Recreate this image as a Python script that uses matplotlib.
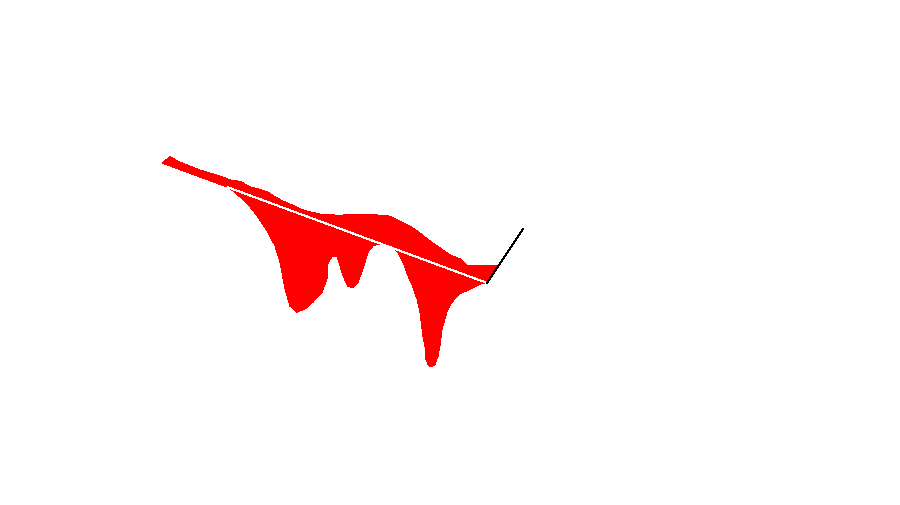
import numpy as np
import matplotlib
matplotlib.use("Agg")
import matplotlib.pyplot as plt
from matplotlib.transforms import Affine2D

# Position along the slanted axis and level relative to the axis (baseline = 0)
top_pos = [0, 8, 18, 28, 38, 48, 58, 68, 78, 88, 96, 106, 113, 118, 121, 130, 136,
           143, 153, 158, 173, 188, 206, 228, 238, 248, 258, 268, 278, 288, 298, 305, 318, 335]
top_lvl = [0, 9, 7.6, 7.3, 7.0, 7.7, 8.4, 8.1, 10.5, 8.5, 9.5, 10, 8, 7, 6.5, 6, 5.5,
           5, 6.5, 7.3, 11.8, 17.4, 24.8, 31, 29.8, 28.5, 25.2, 20.9, 17.6, 14.3, 14, 10.5, 15.3, 21.6]

bot_pos = [325, 318, 308, 298, 290, 285, 280, 278, 276, 273, 271, 268, 266, 264, 263, 261,
           258, 255, 251, 246, 241, 235, 230, 226, 221, 216, 211, 206, 201, 196, 191, 186,
           181, 178, 175, 170, 166, 165, 160, 151, 143, 135, 128, 123, 118, 113, 106, 96,
           88, 78, 70, 68, 0]
bot_lvl = [0, -3.7, -12.4, -21, -32, -43.8, -62.7, -80.4, -91.2, -100.3, -103, -105.1, -103.8,
           -98.6, -86, -76.7, -53.8, -41.9, -31.4, -22.2, -10.1, -1.3, 1.9, 1.4, 0.5, -1.3,
           -5.1, -13, -31.8, -46.7, -54.5, -54.4, -46.2, -37.3, -29.4, -30.3, -39.7, -55.1,
           -70, -83.3, -93.2, -99.2, -95.8, -80.6, -55.5, -41.3, -29.9, -18.6, -11.5, -5.2,
           -1.2, 0, 0]

axis_pos = [66, 325]
axis_lvl = [0, 0]
edge_pos = [325, 361]
edge_lvl = [0, 67.2]

fig = plt.figure(figsize=(9, 5.06), dpi=100)
ax = fig.add_axes([0, 0, 1, 1])
ax.set_xlim(0, 900)
ax.set_ylim(506, 0)
ax.axis("off")

skew = Affine2D(np.array([[1.0, 0.0, 162.0],
                          [0.369, -1.0, 164.0],
                          [0.0, 0.0, 1.0]])) + ax.transData

poly_pos = list(top_pos) + list(bot_pos)
poly_lvl = list(top_lvl) + list(bot_lvl)
ax.fill(poly_pos, poly_lvl, color="#ff0000", linewidth=0, antialiased=False, transform=skew)
ax.plot(axis_pos, axis_lvl, color="white", linewidth=0.72, antialiased=False, transform=skew)
ax.plot(edge_pos, edge_lvl, color="black", linewidth=0.72, antialiased=False, transform=skew)

fig.savefig("out.png", dpi=100)
